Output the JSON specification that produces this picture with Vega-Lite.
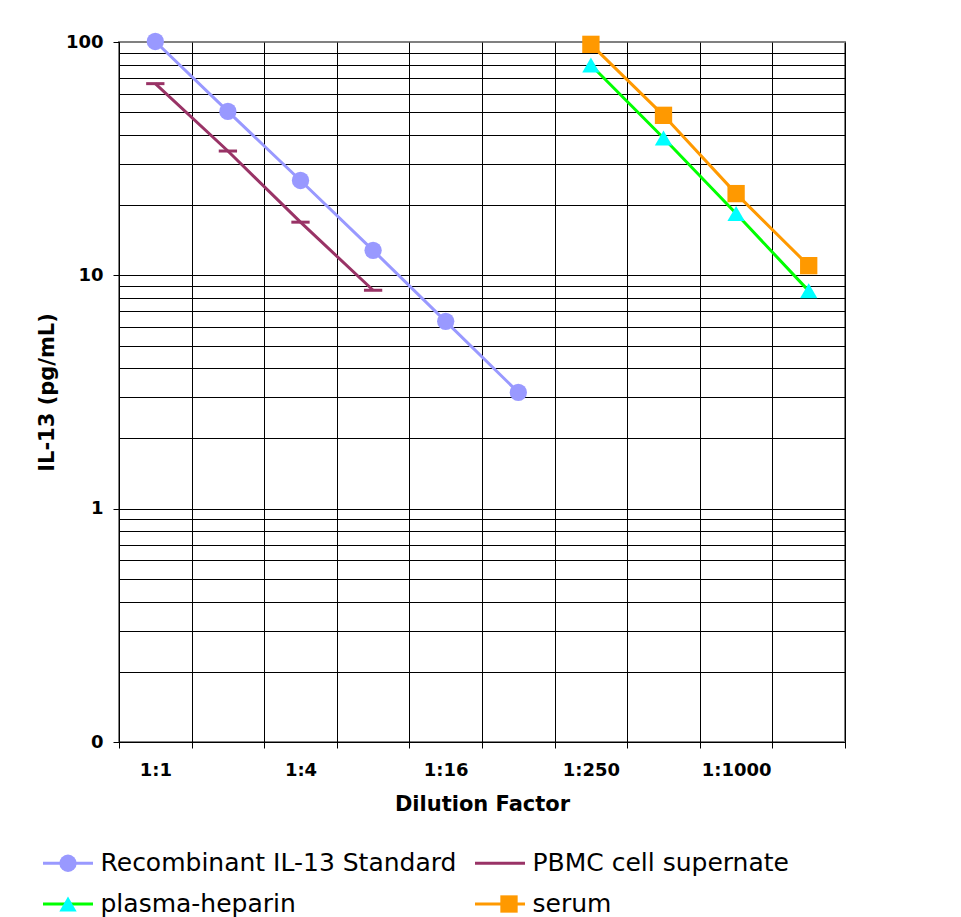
{
  "$schema": "https://vega.github.io/schema/vega-lite/v6.json",
  "width": 726,
  "height": 700,
  "autosize": {"type": "none"},
  "padding": {"left": 119, "top": 42, "right": 116, "bottom": 175},
  "background": "white",
  "config": {
    "font": "DejaVu Sans",
    "view": {"stroke": "#808080", "strokeWidth": 2}
  },
  "data": {
    "values": [
      {"series": "Recombinant IL-13 Standard", "dilution": "1:1", "value": 100.5},
      {"series": "Recombinant IL-13 Standard", "dilution": "1:2", "value": 50.4},
      {"series": "Recombinant IL-13 Standard", "dilution": "1:4", "value": 25.5},
      {"series": "Recombinant IL-13 Standard", "dilution": "1:8", "value": 12.8},
      {"series": "Recombinant IL-13 Standard", "dilution": "1:16", "value": 6.35},
      {"series": "Recombinant IL-13 Standard", "dilution": "1:32", "value": 3.15},
      {"series": "PBMC cell supernate", "dilution": "1:1", "value": 66.3},
      {"series": "PBMC cell supernate", "dilution": "1:2", "value": 34.1},
      {"series": "PBMC cell supernate", "dilution": "1:4", "value": 16.9},
      {"series": "PBMC cell supernate", "dilution": "1:8", "value": 8.63},
      {"series": "plasma-heparin", "dilution": "1:250", "value": 79.7},
      {"series": "plasma-heparin", "dilution": "1:500", "value": 38.8},
      {"series": "plasma-heparin", "dilution": "1:1000", "value": 18.4},
      {"series": "plasma-heparin", "dilution": "1:2000", "value": 8.58},
      {"series": "serum", "dilution": "1:250", "value": 97.7},
      {"series": "serum", "dilution": "1:500", "value": 48.5},
      {"series": "serum", "dilution": "1:1000", "value": 22.4},
      {"series": "serum", "dilution": "1:2000", "value": 11.0}
    ]
  },
  "encoding": {
    "x": {
      "field": "dilution",
      "type": "nominal",
      "sort": ["1:1", "1:2", "1:4", "1:8", "1:16", "1:32", "1:250", "1:500", "1:1000", "1:2000"],
      "scale": {"type": "band", "paddingInner": 0, "paddingOuter": 0},
      "axis": {
        "title": "Dilution Factor",
        "titleFont": "DejaVu Sans",
        "titleFontSize": 21,
        "titleFontWeight": "bold",
        "titleColor": "black",
        "titlePadding": 14,
        "labelFont": "DejaVu Sans",
        "labelFontSize": 18,
        "labelFontWeight": "bold",
        "labelColor": "black",
        "labelAngle": 0,
        "labelPadding": 13,
        "labelExpr": "indexof(['1:1','1:4','1:16','1:250','1:1000'], datum.value) >= 0 ? datum.value : ''",
        "tickBand": "extent",
        "tickSize": 6,
        "tickColor": "black",
        "tickWidth": 1,
        "domainColor": "black",
        "domainWidth": 1,
        "grid": true,
        "gridColor": "black",
        "gridWidth": 1,
        "gridOpacity": 1
      }
    },
    "y": {
      "field": "value",
      "type": "quantitative",
      "scale": {"type": "log", "domain": [0.1, 100], "nice": false},
      "axis": {
        "title": "IL-13 (pg/mL)",
        "titleFont": "DejaVu Sans",
        "titleFontSize": 21,
        "titleFontWeight": "bold",
        "titleColor": "black",
        "titlePadding": 8,
        "values": [0.1, 0.2, 0.3, 0.4, 0.5, 0.6, 0.7, 0.8, 0.9, 1, 2, 3, 4, 5, 6, 7, 8, 9, 10, 20, 30, 40, 50, 60, 70, 80, 90, 100],
        "labelExpr": "datum.value == 100 ? '100' : datum.value == 10 ? '10' : datum.value == 1 ? '1' : datum.value == 0.1 ? '0' : ''",
        "labelFont": "DejaVu Sans",
        "labelFontSize": 18,
        "labelFontWeight": "bold",
        "labelColor": "black",
        "labelPadding": 10,
        "labelOverlap": false,
        "tickSize": 6,
        "tickColor": "black",
        "tickOpacity": {"condition": {"test": "datum.value == 100 || datum.value == 10 || datum.value == 1 || datum.value == 0.1", "value": 1}, "value": 0},
        "domainColor": "black",
        "domainWidth": 1,
        "grid": true,
        "gridColor": "black",
        "gridWidth": 1,
        "gridOpacity": {"condition": {"test": "datum.value == 100", "value": 0}, "value": 1}
      }
    }
  },
  "layer": [
    {
      "mark": {"type": "line", "strokeWidth": 3},
      "encoding": {
        "color": {
          "field": "series",
          "type": "nominal",
          "sort": ["Recombinant IL-13 Standard", "PBMC cell supernate", "plasma-heparin", "serum"],
          "scale": {"range": ["#9999FF", "#993366", "#00FF00", "#FF9900"]},
          "legend": {
            "orient": "none",
            "legendX": -77.5,
            "legendY": 794.5,
            "direction": "horizontal",
            "columns": 2,
            "title": null,
            "symbolType": "stroke",
            "symbolSize": 2500,
            "symbolStrokeWidth": 3,
            "rowPadding": 1,
            "columnPadding": 12,
            "labelOffset": 6,
            "labelFont": "DejaVu Sans",
            "labelFontSize": 25,
            "labelColor": "black",
            "labelLimit": 1000
          }
        }
      }
    },
    {
      "transform": [{"filter": "datum.series === 'PBMC cell supernate'"}],
      "mark": {"type": "point", "shape": "stroke", "filled": false, "size": 335, "stroke": "#993366", "strokeWidth": 3, "opacity": 1}
    },
    {
      "transform": [{"filter": "datum.series !== 'PBMC cell supernate'"}],
      "mark": {"type": "point", "filled": true, "size": 300, "opacity": 1},
      "encoding": {
        "shape": {
          "field": "series",
          "type": "nominal",
          "scale": {
            "domain": ["Recombinant IL-13 Standard", "PBMC cell supernate", "plasma-heparin", "serum"],
            "range": ["circle", "stroke", "triangle-up", "square"]
          },
          "legend": {
            "orient": "none",
            "legendX": -77.5,
            "legendY": 808.5,
            "direction": "horizontal",
            "columns": 2,
            "title": null,
            "symbolSize": 300,
            "symbolStrokeWidth": 0,
            "symbolOffset": 14,
            "symbolOpacity": 1,
            "rowPadding": 15,
            "columnPadding": 12,
            "labelOffset": 34,
            "labelFont": "DejaVu Sans",
            "labelFontSize": 25,
            "labelColor": "black",
            "labelOpacity": 0,
            "labelLimit": 1000
          }
        },
        "fill": {
          "field": "series",
          "type": "nominal",
          "scale": {
            "domain": ["Recombinant IL-13 Standard", "PBMC cell supernate", "plasma-heparin", "serum"],
            "range": ["#9999FF", "#993366", "#00FFFF", "#FF9900"]
          },
          "legend": {
            "orient": "none",
            "legendX": -77.5,
            "legendY": 808.5,
            "direction": "horizontal",
            "columns": 2,
            "title": null,
            "symbolSize": 300,
            "symbolStrokeWidth": 0,
            "symbolOffset": 14,
            "symbolOpacity": 1,
            "rowPadding": 15,
            "columnPadding": 12,
            "labelOffset": 34,
            "labelFont": "DejaVu Sans",
            "labelFontSize": 25,
            "labelColor": "black",
            "labelOpacity": 0,
            "labelLimit": 1000
          }
        }
      }
    }
  ]
}
